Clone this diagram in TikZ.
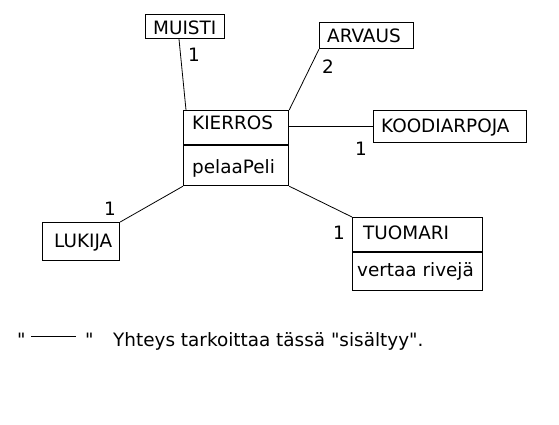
\documentclass[tikz,border=0pt]{standalone}
\usepackage{fontspec}
\setmainfont{DejaVu Sans}[Ligatures=TeXOff]
\begin{document}
\begin{tikzpicture}[x=1pt,y=-1pt,
  box/.style={draw,line width=1.2pt,rectangle,inner sep=0pt,anchor=north west},
  txt/.style={anchor=base west,inner sep=0pt,font=\fontsize{18.4}{22}\selectfont},
  conn/.style={line width=0.8pt}]
\useasboundingbox (0,0) rectangle (559,424);
% boxes
\node[box,minimum width=79pt,minimum height=24pt] (muisti) at (145,14) {};
\node[box,minimum width=94pt,minimum height=26pt] (arvaus) at (319,22) {};
\node[box,minimum width=105pt,minimum height=75pt] (kierros) at (183,110) {};
\node[box,minimum width=153pt,minimum height=32pt] (koodi) at (373,110) {};
\node[box,minimum width=77pt,minimum height=38pt] (lukija) at (42,222) {};
\node[box,minimum width=130pt,minimum height=73pt] (tuomari) at (352,217) {};
% dividers
\draw[line width=1.2pt] ([yshift=-35pt]kierros.north west) -- ([yshift=-35pt]kierros.north east);
\draw[line width=1.2pt] ([yshift=-35pt]tuomari.north west) -- ([yshift=-35pt]tuomari.north east);
% texts
\node[txt] (tmuisti) at (153,34) {MUISTI};
\node[txt] (tarvaus) at (327,42) {ARVAUS};
\node[txt] (tkierros) at (192,129) {KIERROS};
\node[txt] (tpelaa) at (192,173) {pelaaPeli};
\node[txt] (tkoodi) at (381,132) {KOODIARPOJA};
\node[txt] (tlukija) at (54,247) {LUKIJA};
\node[txt] (ttuomari) at (363,239) {TUOMARI};
\node[txt] (tvertaa) at (357,276) {vertaa rivejä};
% multiplicities
\node[txt] (m1) at (188,61) {1};
\node[txt] (m2) at (322,73) {2};
\node[txt] (m3) at (355,155) {1};
\node[txt] (m4) at (104,215) {1};
\node[txt] (m5) at (333,239) {1};
% connectors
\draw[conn] ([xshift=34pt]muisti.south west) -- ([xshift=3pt]kierros.north west);
\draw[conn] (kierros.north east) -- (arvaus.south west);
\draw[conn] (koodi.west -| kierros.east) -- (koodi.west);
\draw[conn] (lukija.north east) -- (kierros.south west);
\draw[conn] (kierros.south east) -- (tuomari.north west);
% legend
\coordinate (la) at (31,336);
\coordinate (lb) at (76,336);
\node[txt] (q1) at (17,346) {"};
\draw[conn] (la) -- (lb);
\node[txt] (q2) at (85,346) {"};
\node[txt] (legend) at (113,346) {Yhteys tarkoittaa tässä "sisältyy".};
\end{tikzpicture}
\end{document}
